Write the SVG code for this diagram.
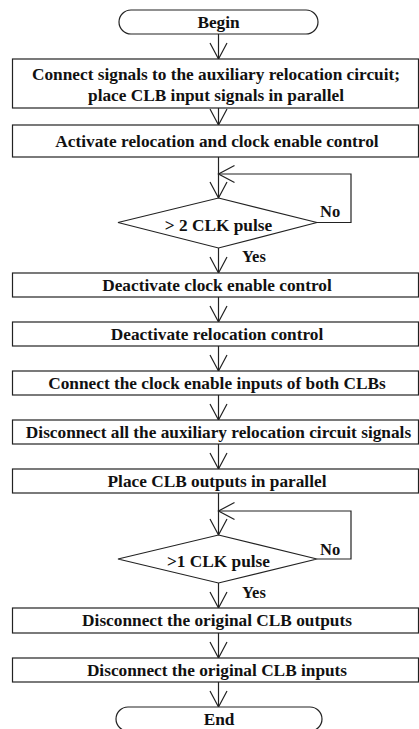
<svg xmlns="http://www.w3.org/2000/svg" width="419" height="729" viewBox="0 0 419 729">
  <style>
    .box { fill: #ffffff; stroke: #222222; stroke-width: 1.2; }
    .lbl { font-family: "Liberation Serif", "Times New Roman", serif; font-weight: bold; font-size: 17.3px; fill: #111111; text-anchor: middle; }
    .tag { font-family: "Liberation Serif", "Times New Roman", serif; font-weight: bold; font-size: 16.5px; fill: #111111; }
    .wire { fill: none; stroke: #222222; stroke-width: 1.2; }
  </style>
  <defs>
    <marker id="vhead" markerUnits="userSpaceOnUse" markerWidth="20" markerHeight="20" viewBox="-18 -10 20 20" refX="0" refY="0" orient="auto">
      <path d="M-16,-8.5 L0,0 L-16,8.5" fill="none" stroke="#222222" stroke-width="1.2"/>
    </marker>
  </defs>

  <rect width="419" height="729" fill="#ffffff"/>

  <!-- connectors -->
  <g id="connectors" class="wire">
    <line x1="218.5" y1="34" x2="218.5" y2="59" marker-end="url(#vhead)"/>
    <line x1="218.5" y1="108" x2="218.5" y2="125" marker-end="url(#vhead)"/>
    <line x1="218.5" y1="157" x2="218.5" y2="198" marker-end="url(#vhead)"/>
    <polyline points="317,222.5 351,222.5 351,174 218.5,174" marker-end="url(#vhead)"/>
    <line x1="218.5" y1="248" x2="218.5" y2="273" marker-end="url(#vhead)"/>
    <line x1="218.5" y1="297" x2="218.5" y2="322" marker-end="url(#vhead)"/>
    <line x1="218.5" y1="346" x2="218.5" y2="371" marker-end="url(#vhead)"/>
    <line x1="218.5" y1="395" x2="218.5" y2="420" marker-end="url(#vhead)"/>
    <line x1="218.5" y1="444" x2="218.5" y2="469" marker-end="url(#vhead)"/>
    <line x1="218.5" y1="493" x2="218.5" y2="535" marker-end="url(#vhead)"/>
    <polyline points="317,559 351,559 351,511 218.5,511" marker-end="url(#vhead)"/>
    <line x1="218.5" y1="583" x2="218.5" y2="608" marker-end="url(#vhead)"/>
    <line x1="218.5" y1="633" x2="218.5" y2="658" marker-end="url(#vhead)"/>
    <line x1="218.5" y1="682" x2="218.5" y2="707" marker-end="url(#vhead)"/>
  </g>

  <g id="begin">
    <rect class="box" x="119" y="10" width="199" height="24" rx="12" ry="12"/>
    <text class="lbl" x="218.5" y="28">Begin</text>
  </g>

  <g id="connect-signals">
    <rect class="box" x="12.5" y="59" width="406" height="49"/>
    <text class="lbl" x="216" y="80">Connect signals to the auxiliary relocation circuit;</text>
    <text class="lbl" x="216" y="100.5">place CLB input signals in parallel</text>
  </g>

  <g id="activate-control">
    <rect class="box" x="12.5" y="125" width="406" height="32"/>
    <text class="lbl" x="217" y="147">Activate relocation and clock enable control</text>
  </g>

  <g id="check-two-pulses">
    <polygon class="box" points="218.5,198 317,222.5 218.5,248 118,222.5"/>
    <text class="lbl" x="218.5" y="231">&gt; 2 CLK pulse</text>
    <text class="tag" x="320" y="217">No</text>
    <text class="tag" x="242" y="262">Yes</text>
  </g>

  <g id="deactivate-clock-enable">
    <rect class="box" x="12.5" y="273" width="406" height="24"/>
    <text class="lbl" x="217" y="290.5">Deactivate clock enable control</text>
  </g>

  <g id="deactivate-relocation">
    <rect class="box" x="12.5" y="322" width="406" height="24"/>
    <text class="lbl" x="217" y="339.5">Deactivate relocation control</text>
  </g>

  <g id="connect-clock-enables">
    <rect class="box" x="12.5" y="371" width="406" height="24"/>
    <text class="lbl" x="217" y="388.5">Connect the clock enable inputs of both CLBs</text>
  </g>

  <g id="disconnect-auxiliary">
    <rect class="box" x="12.5" y="420" width="406" height="24"/>
    <text class="lbl" x="218.5" y="437.5">Disconnect all the auxiliary relocation circuit signals</text>
  </g>

  <g id="parallel-outputs">
    <rect class="box" x="12.5" y="469" width="406" height="24"/>
    <text class="lbl" x="217" y="486.5">Place CLB outputs in parallel</text>
  </g>

  <g id="check-one-pulse">
    <polygon class="box" points="218.5,535 317,559 218.5,583 118,559"/>
    <text class="lbl" x="218.5" y="567">&gt;1 CLK pulse</text>
    <text class="tag" x="320" y="555">No</text>
    <text class="tag" x="242" y="598">Yes</text>
  </g>

  <g id="disconnect-outputs">
    <rect class="box" x="12.5" y="608" width="406" height="25"/>
    <text class="lbl" x="217" y="625.5">Disconnect the original CLB outputs</text>
  </g>

  <g id="disconnect-inputs">
    <rect class="box" x="12.5" y="658" width="406" height="24"/>
    <text class="lbl" x="217" y="675.5">Disconnect the original CLB inputs</text>
  </g>

  <g id="end">
    <rect class="box" x="116" y="707" width="206" height="24" rx="12" ry="12"/>
    <text class="lbl" x="219" y="725">End</text>
  </g>
</svg>
